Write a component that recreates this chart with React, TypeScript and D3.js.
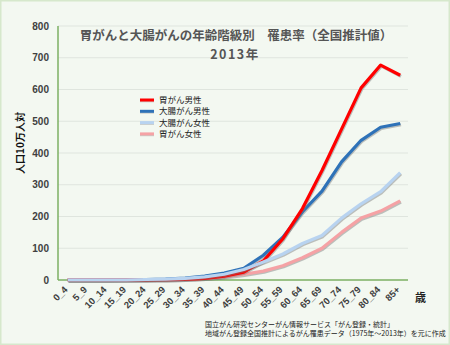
import React from "react";
import * as d3 from "d3";

const categories = ["0_4","5_9","10_14","15_19","20_24","25_29","30_34","35_39","40_44","45_49","50_54","55_59","60_64","65_69","70_74","75_79","80_84","85+"];
const stomachMale = [0.2,0.2,0.2,0.3,0.6,1,2,5,12,25,60,130,225,345,475,605,677,645];
const colonMale = [0.3,0.3,0.3,0.6,1.5,3,6,12,22,37,78,135,215,280,372,440,481,493];
const colonFemale = [0.3,0.3,0.3,0.6,1.5,3,5,10,18,33,57,82,115,140,195,240,278,338];
const stomachFemale = [0.2,0.2,0.2,0.3,0.6,1,2,5,10,18,28,45,70,100,150,195,217,249];
const yTicks = [0,100,200,300,400,500,600,700,800];

const seriesNames = ["胃がん男性","大腸がん男性","大腸がん女性","胃がん女性"];
const seriesColors = ["#ff0000","#2e72b8","#b8d3f0","#f5a2a5"];
const seriesData = [stomachMale, colonMale, colonFemale, stomachFemale];
const drawOrder = [3, 1, 0, 2];

const W = 450, H = 345;
const x0 = 58, x1 = 410, yBottom = 280, yTop = 26;

export default function App() {
  const x = d3.scaleBand<string>().domain(categories).range([x0, x1]);
  const cx = (c: string) => (x(c) as number) + x.bandwidth() / 2;
  const y = d3.scaleLinear().domain([0, 800]).range([yBottom, yTop]);
  const line = d3.line<number>().x((_, i) => cx(categories[i])).y(v => y(v));
  const font = "'Noto Sans CJK JP', 'Noto Sans', sans-serif";

  return (
    <svg width={W} height={H} style={{ position: "absolute", left: 0, top: 0 }} fontFamily={font}>
      <rect x={0.5} y={0.5} width={W - 1} height={H - 1} fill="#f3f8f1" stroke="#d6e8cc" strokeWidth={2} />
      {yTicks.filter(t => t > 0).map(t => (
        <line key={t} x1={x0} x2={408} y1={y(t)} y2={y(t)} stroke="#dfe5de" strokeWidth={1} />
      ))}
      {yTicks.map(t => (
        <text key={"l" + t} x={49} y={y(t)} dy="0.35em" textAnchor="end" fontSize={10} fontWeight="bold" fill="#404040" fontFamily="'Liberation Sans', Arial, sans-serif">{t}</text>
      ))}
      <line x1={x0} x2={x0} y1={yTop} y2={yBottom} stroke="#7cb063" strokeWidth={1.5} />
      <line x1={x0} x2={408} y1={yBottom} y2={yBottom} stroke="#7cb063" strokeWidth={1.5} />
      {drawOrder.map(si => (
        <g key={si}>
          <path d={line(seriesData[si]) || ""} fill="none" stroke="#777" strokeOpacity={0.45} strokeWidth={3} transform="translate(0.8,1.2)" strokeLinejoin="round" />
          <path d={line(seriesData[si]) || ""} fill="none" stroke={seriesColors[si]} strokeWidth={3.2} strokeLinejoin="round" />
        </g>
      ))}
      {categories.map(c => (
        <text key={c} transform={`translate(${cx(c) - 2},${288}) rotate(-45)`} textAnchor="end" dy="0.35em" fontSize={9.5} fontWeight="bold" fill="#404040" fontFamily="'Liberation Sans', Arial, sans-serif">{c}</text>
      ))}
      <text x={415} y={298} dy="0.35em" fontSize={11} fontWeight="bold" fill="#222">歳</text>
      <text transform="translate(20,143) rotate(-90)" textAnchor="middle" dy="0.35em" fontSize={10} fontWeight="bold" fill="#111">人口10万人対</text>
      <text x={236} y={36} dy="0.35em" textAnchor="middle" fontSize={12.5} fill="#555" fontWeight="bold">胃がんと大腸がんの年齢階級別　罹患率（全国推計値）</text>
      <text x={235} y={55} dy="0.35em" textAnchor="middle" fontSize={12.5} fill="#555" fontWeight="bold" letterSpacing={1.5}>2013年</text>
      {seriesNames.map((n, i) => (
        <g key={n} transform={`translate(140,${100 + i * 11.3})`}>
          <line x1={0} x2={14} y1={0.8} y2={0.8} stroke="#888" strokeOpacity={0.4} strokeWidth={3} />
          <line x1={0} x2={14} y1={0} y2={0} stroke={seriesColors[i]} strokeWidth={3} />
          <text x={19} y={0} dy="0.35em" fontSize={8.5} fill="#222">{n}</text>
        </g>
      ))}
      <text x={205} y={325} dy="0.35em" fontSize={7} fill="#222">国立がん研究センターがん情報サービス「がん登録・統計」</text>
      <text x={205} y={334} dy="0.35em" fontSize={7} fill="#222">地域がん登録全国推計によるがん罹患データ（1975年～2013年）を元に作成</text>
    </svg>
  );
}
